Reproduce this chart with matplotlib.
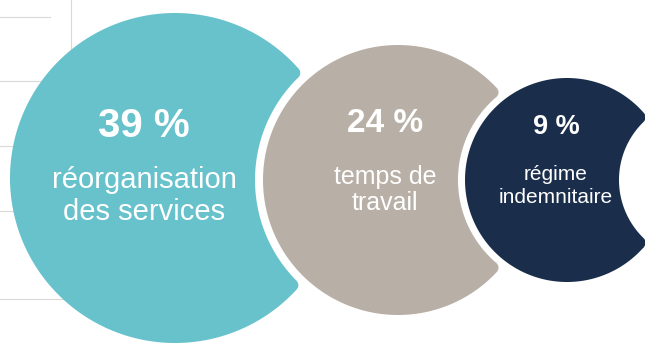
import matplotlib.pyplot as plt
from matplotlib.patches import Polygon
import numpy as np

plt.rcParams['font.family'] = ['Liberation Sans', 'DejaVu Sans']

# shares and what they refer to
pcts = [39, 24, 9]
labels = ['réorganisation\ndes services', 'temps de\ntravail', 'régime\nindemnitaire']
colors = ['#67c2cc', '#b8b0a6', '#1a2e4b']

# layout in pixels: disc centre, radius, and the "bite" cut by the next disc
centers = [(175, 178), (398, 180), (567, 180)]
radii = [165, 135, 102]
bites = [((398, 180), 143), ((567, 180), 109), ((700, 180), 81)]
pct_size = [29, 24, 19.5]
lab_size = [21, 18, 15]
lab_spacing = [1.15, 1.08, 1.3]
pct_y = [126, 124, 127]
lab_y = [196, 190, 186]
lab_x = [144, 385, 556]

DPI = 100
FILLET = 6  # corner rounding at the tips, px


def crescent(center, R, bite_c, r, f):
    # shrink the disc / grow the bite by f, then stroke with width 2f -> rounded tips
    cx, cy = center
    bx, by = bite_c
    R2, r2 = R - f, r + f
    d = np.hypot(bx - cx, by - cy)
    base = np.arctan2(by - cy, bx - cx)
    a = (d**2 + R2**2 - r2**2) / (2 * d)
    h = np.sqrt(R2**2 - a**2)
    t0 = np.arctan2(h, a)
    t = np.linspace(t0, 2 * np.pi - t0, 300) + base
    outer = np.column_stack([cx + R2 * np.cos(t), cy + R2 * np.sin(t)])
    alpha = np.arctan2(h, d - a)
    s = np.linspace(np.pi + alpha, np.pi - alpha, 200) + base
    inner = np.column_stack([bx + r2 * np.cos(s), by + r2 * np.sin(s)])
    return np.vstack([outer, inner])


fig = plt.figure(figsize=(6.45, 3.45), dpi=DPI)
ax = fig.add_axes([0, 0, 1, 1])
ax.set_xlim(0, 645)
ax.set_ylim(345, 0)
ax.axis('off')

# faint table rules behind the first disc
grid = '#d9d9d9'
ax.plot([0, 50], [17, 17], color=grid, lw=0.8, zorder=0)
ax.plot([71, 71], [0, 60], color=grid, lw=0.8, zorder=0)
for y in [81, 146, 211, 299]:
    ax.plot([0, 150], [y, y], color=grid, lw=0.8, zorder=0)

lw = 2 * FILLET * 72 / DPI
for i in range(3):
    pts = crescent(centers[i], radii[i], bites[i][0], bites[i][1], FILLET)
    ax.add_patch(Polygon(pts, closed=True, facecolor=colors[i], edgecolor=colors[i],
                         lw=lw, joinstyle='round', zorder=1))
    ax.text(lab_x[i], pct_y[i], f'{pcts[i]} %', color='white', fontsize=pct_size[i],
            fontweight='bold', ha='center', va='center', zorder=2)
    ax.text(lab_x[i], lab_y[i], labels[i], color='white', fontsize=lab_size[i],
            ha='center', va='center', linespacing=lab_spacing[i], zorder=2)

fig.savefig('out.png', dpi=DPI)
